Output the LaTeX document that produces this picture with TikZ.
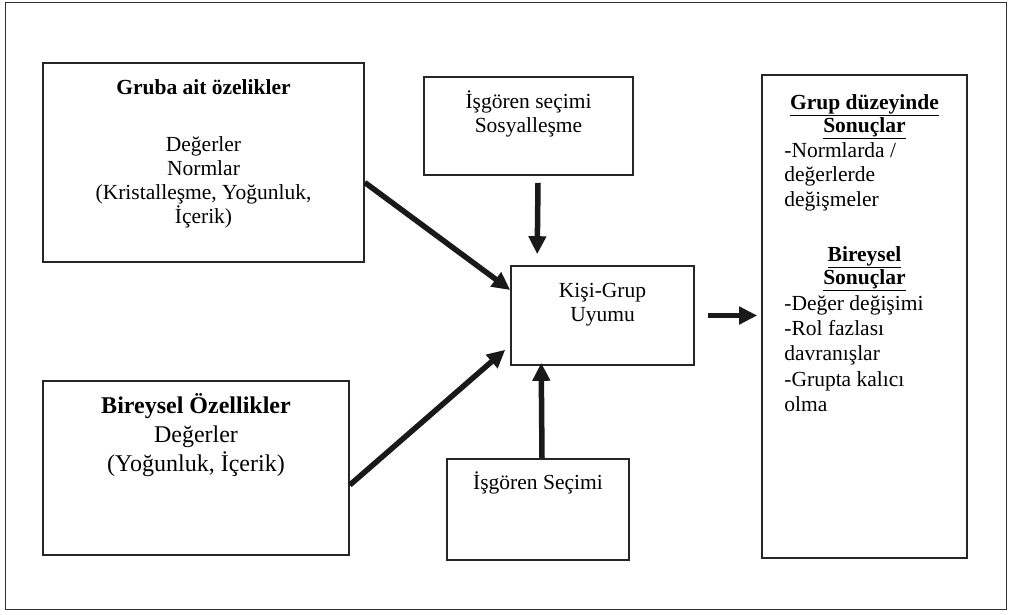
\documentclass[tikz,border=0pt]{standalone}
\usepackage{fontspec}
\setmainfont{Liberation Serif}
\usetikzlibrary{positioning,arrows.meta}
\newcommand{\topstrut}{\rule{0pt}{21pt}}
\begin{document}
\begin{tikzpicture}[x=1pt, y=-1pt, >={Triangle[length=18pt,width=17pt]},
	box/.style={draw=black!85, line width=1.6pt, inner sep=0pt},
	txt/.style={inner sep=0pt, align=center, font=\fontsize{21.5}{24}\selectfont},
	arr/.style={->, line width=5.5pt, black!90}]
	\useasboundingbox (0,0) rectangle (1009,614);
	\draw[black!80, line width=1pt] (5,2) rectangle (1006,609);
	\path
		(203.5,162.5) node[box, minimum width=321pt, minimum height=199pt] (g1) {}
		(196,468) node[box, minimum width=306pt, minimum height=174pt] (g2) {}
		(528.5,126) node[box, minimum width=209pt, minimum height=98pt] (s1) {}
		(602.5,315.5) node[box, minimum width=183pt, minimum height=99pt] (k) {}
		(538,509.5) node[box, minimum width=182pt, minimum height=101pt] (s2) {}
		(864.5,316.5) node[box, minimum width=205pt, minimum height=483pt] (res) {}
	;
	\node[txt, below=11pt of g1.north] (g1t) {\topstrut\textbf{Gruba ait özelikler}\\[33pt] Değerler\\ Normlar\\ (Kristalleşme, Yoğunluk,\\ İçerik)};
	\node[txt, font=\fontsize{24}{29}\selectfont, below=12pt of g2.north] (g2t) {\topstrut\textbf{Bireysel Özellikler}\\ Değerler\\ (Yoğunluk, İçerik)};
	\node[txt, below=11pt of s1.north] (s1t) {\topstrut İşgören seçimi\\ Sosyalleşme};
	\node[txt, below=11pt of k.north] (kt) {\topstrut Kişi-Grup\\ Uyumu};
	\node[txt, below=10pt of s2.north] (s2t) {\topstrut İşgören Seçimi};
	\node[txt, font=\fontsize{21.5}{23}\selectfont\bfseries, below=14pt of res.north] (rh1) {\topstrut\underline{Grup düzeyinde}\\ \underline{Sonuçlar}};
	\node[txt, align=left, font=\fontsize{21.5}{24.5}\selectfont, below right=62pt and 23pt of res.north west] (rl1) {\topstrut -Normlarda /\\ değerlerde\\ değişmeler};
	\node[txt, font=\fontsize{21.5}{23}\selectfont\bfseries, below=166pt of res.north] (rh2) {\topstrut\underline{Bireysel}\\ \underline{Sonuçlar}};
	\node[txt, align=left, font=\fontsize{21.5}{25.2}\selectfont, below right=215pt and 23pt of res.north west] (rl2) {\topstrut -Değer değişimi\\ -Rol fazlası\\ davranışlar\\ -Grupta kalıcı\\ olma};
	\draw[arr] ([yshift=-20pt]g1.east) -- ([yshift=25.5pt]k.west);
	\draw[arr] ([yshift=-17pt]g2.east) -- ([xshift=-5pt,yshift=16pt]k.south west);
	\draw[arr] ([xshift=9.5pt,yshift=-7pt]s1.south) -- ([xshift=27pt,yshift=11pt]k.north west);
	\draw[arr] ([xshift=4pt]s2.north) -- ([xshift=31pt,yshift=3pt]k.south west);
	\draw[arr] ([xshift=13pt]k.east) -- ([xshift=-4pt]k.east -| res.west);
\end{tikzpicture}
\end{document}
